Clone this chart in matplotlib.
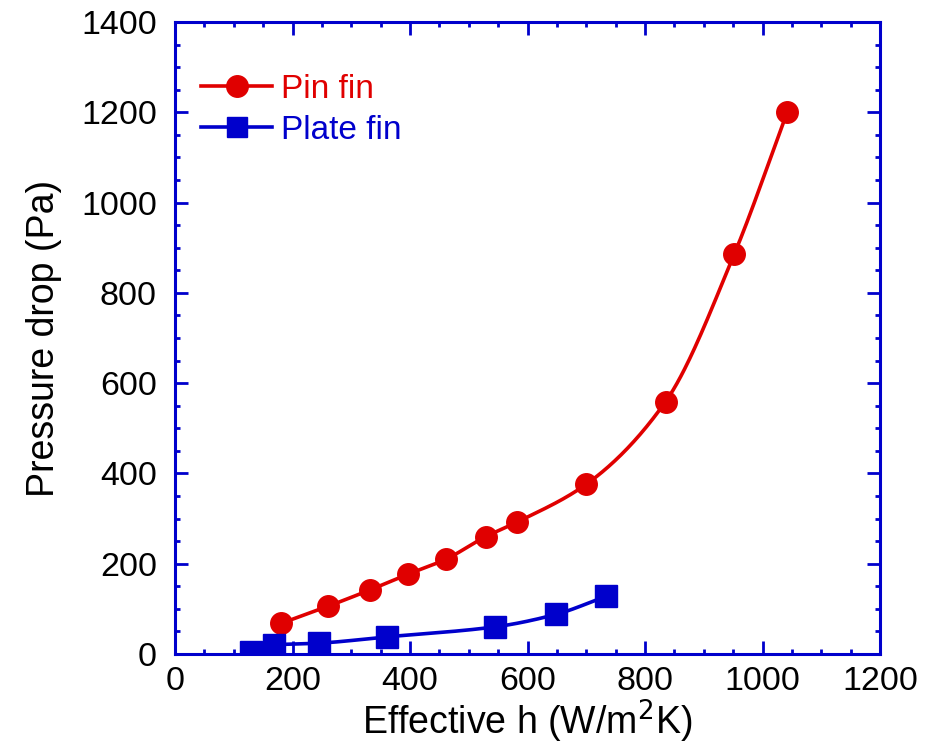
import numpy as np
import matplotlib
matplotlib.use("Agg")
import matplotlib.pyplot as plt
from matplotlib.ticker import MultipleLocator

plt.rcParams['font.family'] = ['Liberation Sans', 'DejaVu Sans']

pin_h = [181, 261, 332, 397, 461, 529, 582, 700, 835, 952, 1042]
pin_dp = [68, 106, 142, 177, 210, 260, 292, 376, 559, 886, 1200]
plate_h = [130, 168, 245, 361, 544, 649, 734]
plate_dp = [5, 20, 24, 38, 60, 88, 128]

RED = '#E00000'
BLUE = '#0000CC'


def pchip(x, y, n=400):
    x = np.asarray(x, float)
    y = np.asarray(y, float)
    h = np.diff(x)
    d = np.diff(y) / h
    m = np.zeros_like(y)
    for k in range(1, len(x) - 1):
        if d[k - 1] * d[k] > 0:
            w1 = 2 * h[k] + h[k - 1]
            w2 = h[k] + 2 * h[k - 1]
            m[k] = (w1 + w2) / (w1 / d[k - 1] + w2 / d[k])
    m[0] = d[0]
    m[-1] = d[-1]
    xs = np.linspace(x[0], x[-1], n)
    idx = np.clip(np.searchsorted(x, xs) - 1, 0, len(x) - 2)
    t = (xs - x[idx]) / h[idx]
    h00 = 2 * t**3 - 3 * t**2 + 1
    h10 = t**3 - 2 * t**2 + t
    h01 = -2 * t**3 + 3 * t**2
    h11 = t**3 - t**2
    ys = h00 * y[idx] + h10 * h[idx] * m[idx] + h01 * y[idx + 1] + h11 * h[idx] * m[idx + 1]
    return xs, ys


fig = plt.figure(figsize=(9.36, 7.51), dpi=100)
ax = fig.add_axes([175 / 936, 1 - 654 / 751, 705 / 936, 632 / 751])

MS = 15.5
LW = 2.6
for xs, ys, c, mk, lab in [(pin_h, pin_dp, RED, 'o', 'Pin fin'),
                           (plate_h, plate_dp, BLUE, 's', 'Plate fin')]:
    sx, sy = pchip(xs, ys)
    ax.plot(sx, sy, color=c, lw=LW, zorder=2)
    ax.plot(xs, ys, linestyle='none', marker=mk, ms=MS, color=c, zorder=3)
    ax.plot([], [], color=c, lw=LW, marker=mk, ms=MS if mk == 'o' else 14.5, label=lab)

ax.set_xlim(0, 1200)
ax.set_ylim(0, 1400)
ax.xaxis.set_major_locator(MultipleLocator(200))
ax.xaxis.set_minor_locator(MultipleLocator(50))
ax.yaxis.set_major_locator(MultipleLocator(200))
ax.yaxis.set_minor_locator(MultipleLocator(50))

for s in ax.spines.values():
    s.set_color(BLUE)
    s.set_linewidth(2.2)
ax.tick_params(which='both', direction='in', top=True, right=True, color=BLUE,
               labelsize=24.5, labelcolor='black')
ax.tick_params(which='major', length=9.5, width=2)
ax.tick_params(which='minor', length=3.5, width=2)
ax.tick_params(axis='x', which='both', pad=9)
ax.tick_params(axis='y', which='both', pad=13)

ax.set_xlabel('Effective h (W/m$^2$K)', fontsize=27, labelpad=0)
ax.set_ylabel('Pressure drop (Pa)', fontsize=27, labelpad=14)

ax.legend(loc='upper left', frameon=False, fontsize=24, labelcolor='linecolor',
          handlelength=2.13, handletextpad=0.27, labelspacing=0.3,
          bbox_to_anchor=(201 / 936, 1 - 74 / 751), bbox_transform=fig.transFigure,
          borderaxespad=0, borderpad=0)

fig.savefig('out.png', dpi=100, facecolor='white')
